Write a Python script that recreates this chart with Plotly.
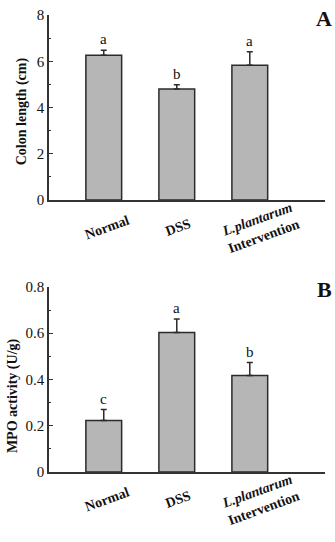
import plotly.graph_objects as go
from plotly.subplots import make_subplots

# data
groups = ["Normal", "DSS", "L.plantarum Intervention"]
group_labels = ["<b>Normal</b>", "<b>DSS</b>", "<b><i>L.plantarum</i></b><br><b>Intervention</b>"]

colon_mean = [6.26, 4.80, 5.83]
colon_err = [0.22, 0.19, 0.58]
colon_letters = ["a", "b", "a"]

mpo_mean = [0.223, 0.603, 0.417]
mpo_err = [0.047, 0.058, 0.056]
mpo_letters = ["c", "a", "b"]

colon_ticks = [0, 2, 4, 6, 8]
colon_minor = [1, 3, 5, 7]
mpo_ticks = [0, 0.2, 0.4, 0.6, 0.8]
mpo_ticktext = ["0", "0.2", "0.4", "0.6", "0.8"]
mpo_minor = [0.1, 0.3, 0.5, 0.7]

FONT = "Liberation Serif, Times New Roman, serif"
BAR = "#b6b6b6"
EDGE = "#2b2b2b"

fig = make_subplots(rows=2, cols=1, vertical_spacing=0.19)

panels = [
    (1, colon_mean, colon_err, colon_letters),
    (2, mpo_mean, mpo_err, mpo_letters),
]
for row, mean, err, letters in panels:
    fig.add_trace(go.Bar(
        x=groups, y=mean, width=0.49,
        marker=dict(color=BAR, line=dict(color=EDGE, width=1.5)),
        error_y=dict(type="data", array=err, arrayminus=[0] * len(err), symmetric=False,
                     color=EDGE, thickness=1.5, width=3),
        showlegend=False, hoverinfo="skip",
    ), row=row, col=1)
    # significance letters above error bars
    for g, m, e, t in zip(groups, mean, err, letters):
        fig.add_annotation(x=g, y=m + e, text=t, showarrow=False, yanchor="bottom", yshift=1,
                           font=dict(family=FONT, size=15, color="#111"), row=row, col=1)
    # rotated category labels under the axis
    shifts = [3, 1, 11]
    yref = "y domain" if row == 1 else "y2 domain"
    xref = "x" if row == 1 else "x2"
    for g, lab, s in zip(groups, group_labels, shifts):
        fig.add_annotation(x=g, y=0, xref=xref, yref=yref, text=lab, showarrow=False,
                           textangle=-20, xanchor="center", yanchor="middle",
                           xshift=s, yshift=-27,
                           font=dict(family=FONT, size=14, color="#111"))

axis_common = dict(showline=True, linecolor="#333", linewidth=1.5, showgrid=False,
                   zeroline=False, mirror=False, automargin=False)
fig.update_xaxes(**axis_common, showticklabels=False, ticks="",
                 range=[-0.75, 3.03])
fig.update_yaxes(**axis_common, ticks="inside", ticklen=4, tickwidth=1.2, tickcolor="#333",
                 tickfont=dict(family=FONT, size=15, color="#111"))
fig.update_yaxes(range=[0, 8], tickvals=colon_ticks,
                 minor=dict(tickvals=colon_minor, ticks="inside", ticklen=2, tickcolor="#333"),
                 row=1, col=1)
fig.update_yaxes(range=[0, 0.8], tickvals=mpo_ticks, ticktext=mpo_ticktext,
                 minor=dict(tickvals=mpo_minor, ticks="inside", ticklen=2, tickcolor="#333"),
                 row=2, col=1)

# axis titles and panel letters
for yref, title, ypos, tx, letter in [("y domain", "Colon length (cm)", 0.48, -27, "A"),
                                      ("y2 domain", "MPO activity (U/g)", 0.41, -36, "B")]:
    fig.add_annotation(xref="paper", yref=yref, x=0, y=ypos, xshift=tx, text="<b>%s</b>" % title,
                       textangle=-90, showarrow=False, xanchor="center", yanchor="middle",
                       font=dict(family=FONT, size=14, color="#111"))
    fig.add_annotation(xref="paper", yref=yref, x=1, y=1, xshift=-1, yshift=-3, text="<b>%s</b>" % letter,
                       showarrow=False, xanchor="center", yanchor="middle",
                       font=dict(family=FONT, size=22, color="#111"))

fig.update_layout(
    width=335, height=542,
    margin=dict(l=49, r=10, t=15, b=70),
    plot_bgcolor="white", paper_bgcolor="white",
    bargap=0.5,
)

# drop the default page margin so the figure fills the window
fig.write_html("out.html", config={"displayModeBar": False},
               post_script="document.body.style.margin='0';")
